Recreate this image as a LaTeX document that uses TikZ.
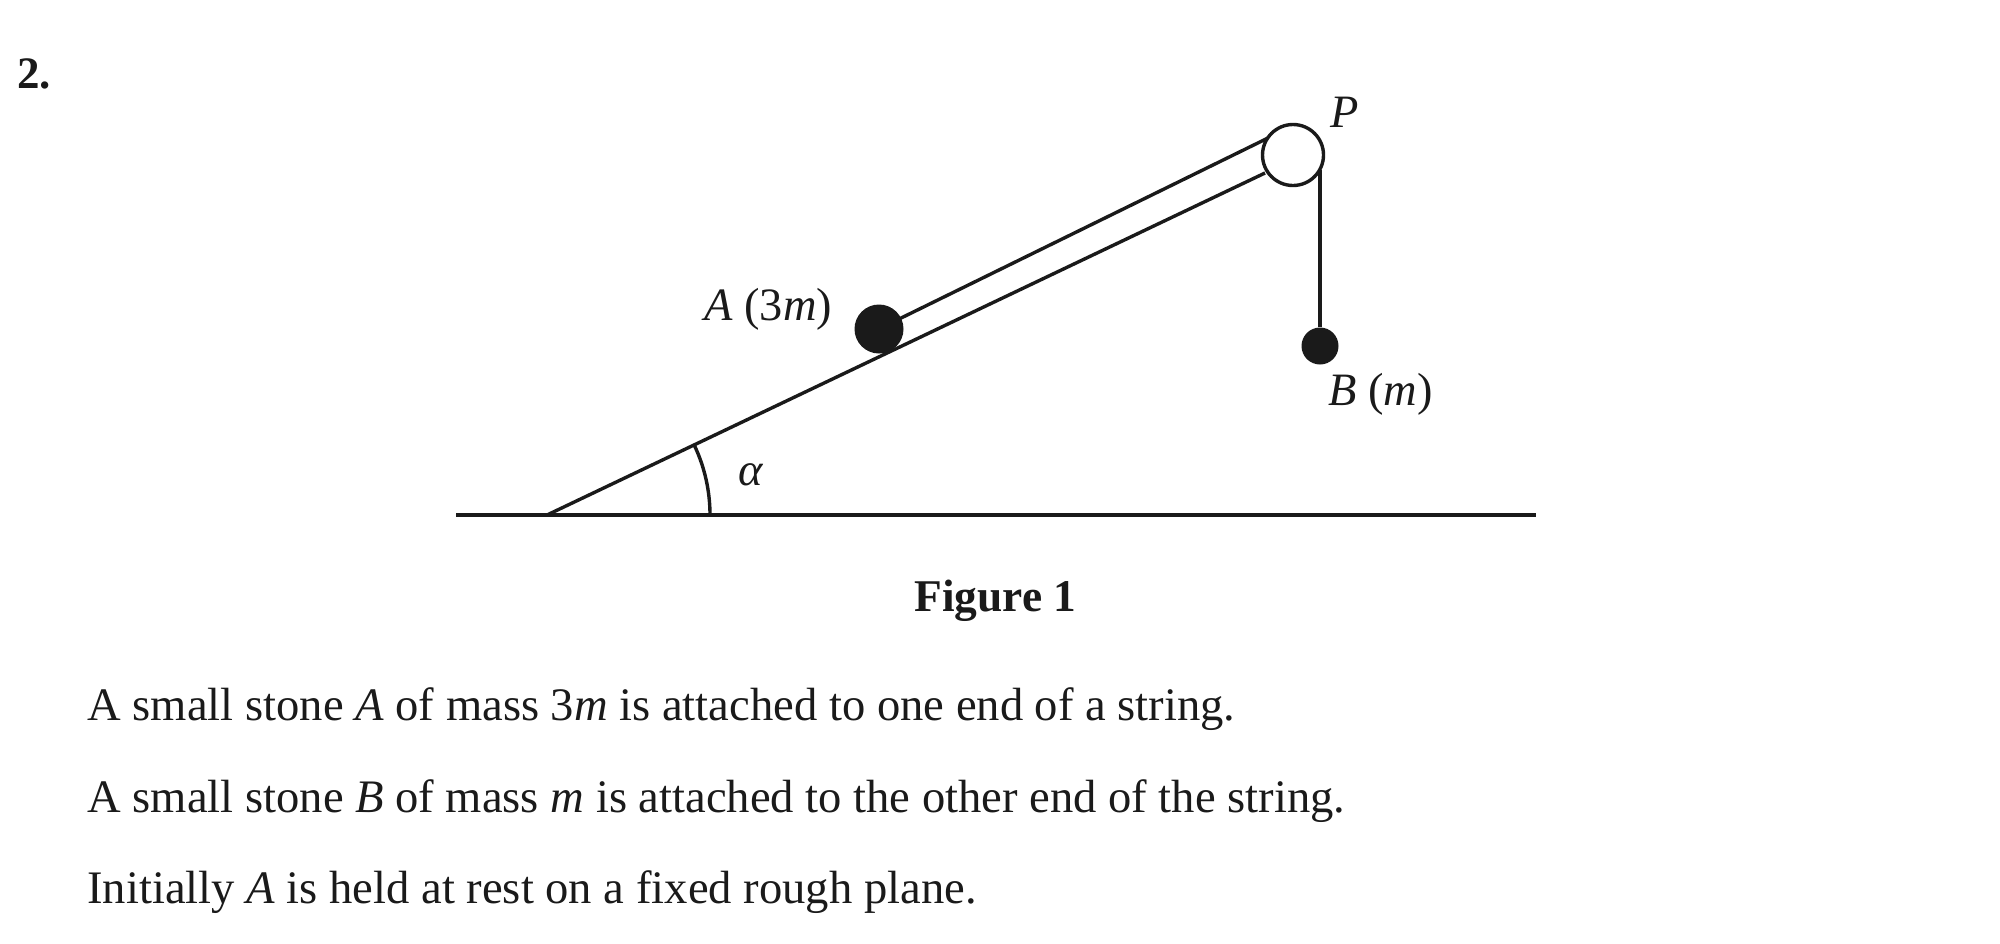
\documentclass[tikz,border=0pt]{standalone}
\usepackage{fontspec}
\setmainfont{Liberation Serif}
\definecolor{ink}{HTML}{1A1A1A}
\tikzset{
  ln/.style={draw=ink,line width=1.7pt},
  stone/.style={circle,fill=ink,draw=none,inner sep=0pt,minimum size=#1},
  lab/.style={inner sep=0pt,anchor=base west,text=ink,font=\fontsize{23.2}{23.2}\selectfont},
  para/.style={inner sep=0pt,anchor=base west,text=ink,font=\fontsize{23.3}{23.3}\selectfont},
}
\begin{document}
\begin{tikzpicture}[x=0.5pt,y=-0.5pt]
\useasboundingbox (0,0) rectangle (2000,943);
\node[para,font=\bfseries\fontsize{22.5}{22.5}\selectfont] (num) at (17,88) {2.};
\coordinate (gl) at (456,515);
\coordinate (gr) at (1536,515);
\coordinate (apex) at (547,515);
\coordinate (lowend) at (1265,173);
\coordinate (upstart) at (895,321);
\coordinate (upend) at (1268,138);
\coordinate (vtop) at (1320,170);
\coordinate (arcstart) at (710,515);
\draw[ln] (gl) -- (gr);
\draw[ln] (apex) -- (lowend);
\draw[ln] (upstart) -- (upend);
\node[stone=24.5pt] (stoneA) at (879,329) {};
\node[stone=18.5pt] (stoneB) at (1320,346) {};
\draw[ln] (vtop) -- (stoneB);
\node[circle,draw=ink,line width=1.7pt,fill=white,inner sep=0pt,minimum size=30.5pt] (pulley) at (1293,155) {};
\draw[ln] (arcstart) arc[start angle=0,end angle=-25.5,radius=163];
\node[lab] (lp) at (1330,127) {\textit{P}};
\node[lab] (la) at (704,320) {\textit{A} (3\textit{m})};
\node[lab] (lb) at (1328,405) {\textit{B} (\textit{m})};
\node[lab] (lal) at (738,485) {\textit{α}};
\node[para,font=\bfseries\fontsize{22.7}{22.7}\selectfont] (fig) at (914,611) {Figure 1};
\node[para] (t1) at (87,720) {A small stone \textit{A} of mass 3\textit{m} is attached to one end of a string.};
\node[para] (t2) at (87,812) {A small stone \textit{B} of mass \textit{m} is attached to the other end of the string.};
\node[para] (t3) at (87,903) {Initially \textit{A} is held at rest on a fixed rough plane.};
\end{tikzpicture}
\end{document}
